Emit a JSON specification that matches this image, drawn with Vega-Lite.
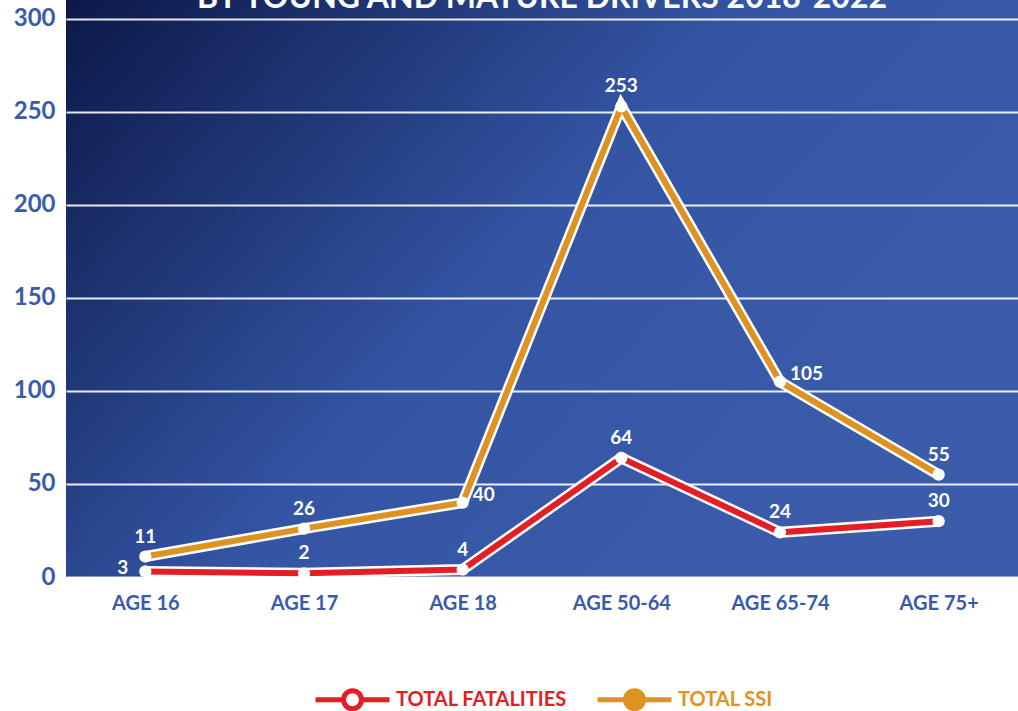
{
  "$schema": "https://vega.github.io/schema/vega-lite/v6.json",
  "autosize": "none",
  "width": 952,
  "height": 577,
  "padding": {"left": 66, "top": 0, "right": 0, "bottom": 134},
  "background": "white",
  "view": {
    "stroke": null,
    "fill": {
      "gradient": "linear",
      "x1": 0, "y1": 0, "x2": 1, "y2": 0.55,
      "stops": [
        {"offset": 0, "color": "#0c1848"},
        {"offset": 0.55, "color": "#3455a4"},
        {"offset": 1, "color": "#3a5cab"}
      ]
    }
  },
  "datasets": {
    "rows": [
      {"age": "AGE 16", "series": "TOTAL FATALITIES", "value": 3},
      {"age": "AGE 17", "series": "TOTAL FATALITIES", "value": 2},
      {"age": "AGE 18", "series": "TOTAL FATALITIES", "value": 4},
      {"age": "AGE 50-64", "series": "TOTAL FATALITIES", "value": 64},
      {"age": "AGE 65-74", "series": "TOTAL FATALITIES", "value": 24},
      {"age": "AGE 75+", "series": "TOTAL FATALITIES", "value": 30},
      {"age": "AGE 16", "series": "TOTAL SSI", "value": 11},
      {"age": "AGE 17", "series": "TOTAL SSI", "value": 26},
      {"age": "AGE 18", "series": "TOTAL SSI", "value": 40},
      {"age": "AGE 50-64", "series": "TOTAL SSI", "value": 253},
      {"age": "AGE 65-74", "series": "TOTAL SSI", "value": 105},
      {"age": "AGE 75+", "series": "TOTAL SSI", "value": 55}
    ],
    "titles": [
      {"label": "BY YOUNG AND MATURE DRIVERS 2018-2022", "value": 305.9}
    ]
  },
  "data": {"name": "rows"},
  "encoding": {
    "x": {
      "field": "age", "type": "nominal", "sort": null,
      "scale": {"type": "point", "padding": 0.5},
      "axis": {
        "title": null, "domain": false, "ticks": false, "labelAngle": 0,
        "labelFont": "Lato", "labelFontSize": 20, "labelFontWeight": "bold",
        "labelColor": "#3a5aaa", "labelPadding": 16
      }
    },
    "y": {
      "field": "value", "type": "quantitative",
      "scale": {"domain": [0, 310.2], "nice": false, "zero": true},
      "axis": {
        "title": null, "domain": false, "ticks": false,
        "values": [0, 50, 100, 150, 200, 250, 300],
        "labelFont": "Lato", "labelFontSize": 24, "labelFontWeight": "bold",
        "labelColor": "#3a5aaa", "labelPadding": 11,
        "grid": true, "gridColor": "white", "gridWidth": 2, "gridOpacity": 0.9
      }
    }
  },
  "layer": [
    {
      "mark": {"type": "line", "color": "white", "strokeWidth": 11},
      "encoding": {"detail": {"field": "series"}}
    },
    {
      "mark": {"type": "line", "strokeWidth": 6},
      "encoding": {
        "color": {
          "field": "series", "type": "nominal",
          "scale": {"domain": ["TOTAL FATALITIES", "TOTAL SSI"], "range": ["#E31E24", "#DD9222"]},
          "legend": {
            "title": null, "orient": "none", "direction": "horizontal",
            "legendX": 274, "legendY": 687,
            "symbolType": "M -3.7 0 L -0.9 0 M 0.9 0 L 3.7 0 M 0.9 0 A 0.9 0.9 0 1 1 -0.9 0 A 0.9 0.9 0 1 1 0.9 0 Z",
            "symbolSize": 400, "symbolStrokeWidth": 5,
            "labelFont": "Lato", "labelFontSize": 20, "labelFontWeight": "bold",
            "labelOffset": 31, "columnPadding": 20, "labelLimit": 0,
            "encode": {
              "symbols": {"update": {"fill": {"signal": "datum.value === 'TOTAL FATALITIES' ? 'white' : '#DD9222'"}, "fillOpacity": {"value": 1}}},
              "labels": {"update": {"fill": {"signal": "datum.value === 'TOTAL FATALITIES' ? '#E31E24' : '#DD9222'"}}}
            }
          }
        }
      }
    },
    {
      "mark": {"type": "point", "filled": true, "color": "white", "size": 150, "opacity": 1}
    },
    {
      "transform": [{"filter": "!(datum.series === 'TOTAL SSI' && (datum.age === 'AGE 65-74' || datum.age === 'AGE 18')) && !(datum.series === 'TOTAL FATALITIES' && datum.age === 'AGE 16')"}],
      "mark": {"type": "text", "color": "white", "font": "Lato", "fontSize": 19, "fontWeight": "bold", "dy": -20},
      "encoding": {"text": {"field": "value", "type": "quantitative"}}
    },
    {
      "transform": [{"filter": "datum.series === 'TOTAL SSI' && (datum.age === 'AGE 65-74' || datum.age === 'AGE 18')"}],
      "mark": {"type": "text", "color": "white", "font": "Lato", "fontSize": 19, "fontWeight": "bold", "align": "left", "dx": 10, "dy": -8},
      "encoding": {"text": {"field": "value", "type": "quantitative"}}
    },
    {
      "transform": [{"filter": "datum.series === 'TOTAL FATALITIES' && datum.age === 'AGE 16'"}],
      "mark": {"type": "text", "color": "white", "font": "Lato", "fontSize": 19, "fontWeight": "bold", "align": "right", "dx": -17, "dy": -3},
      "encoding": {"text": {"field": "value", "type": "quantitative"}}
    },
    {
      "data": {"name": "titles"},
      "mark": {"type": "text", "color": "white", "font": "Lato", "fontSize": 32, "fontWeight": "bold", "baseline": "alphabetic", "align": "center", "x": {"expr": "width / 2"}},
      "encoding": {
        "x": null,
        "y": {"field": "value", "type": "quantitative"},
        "text": {"field": "label", "type": "nominal"}
      }
    }
  ]
}
